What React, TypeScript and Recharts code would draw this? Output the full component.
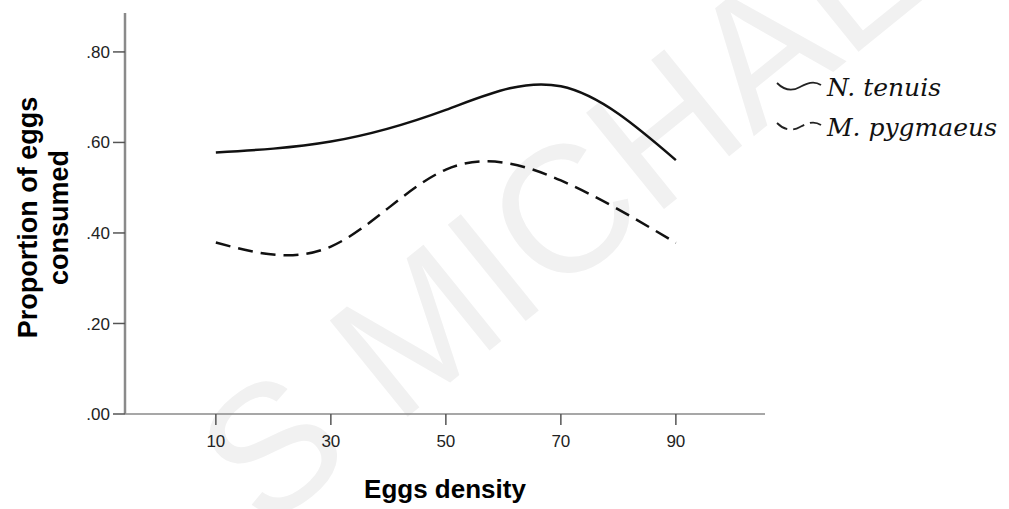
import { LineChart, Line, XAxis, YAxis } from 'recharts';

const densities = [10, 30, 50, 70, 90];
const tenuis = [0.578, 0.602, 0.672, 0.724, 0.561];
const pygmaeus = [0.379, 0.37, 0.54, 0.516, 0.378];
const yTicks = [0, 0.2, 0.4, 0.6, 0.8];
const seriesNames = ['N. tenuis', 'M. pygmaeus'];

const data = densities.map((d, i) => ({ density: d, tenuis: tenuis[i], pygmaeus: pygmaeus[i] }));

const AXIS = '#8a8a8a';
const SANS = 'Liberation Sans, Arial, sans-serif';
const TICK_TEXT = { fill: '#222', fontSize: 17, fontFamily: SANS };
const TITLE = { fontSize: 26, fontWeight: 'bold' as const, fill: '#000', fontFamily: SANS };

function Squiggle({ dashed }: { dashed: boolean }) {
  return (
    <svg width={48} height={18} style={{ display: 'block' }}>
      <path
        d="M2,5 C10,13 18,13 25,9 C31,6 38,2 46,7"
        fill="none"
        stroke="#222"
        strokeWidth={1.8}
        strokeDasharray={dashed ? '12 6' : undefined}
      />
    </svg>
  );
}

function LegendBox() {
  return (
    <div
      style={{
        position: 'absolute',
        left: 775,
        top: 67,
        fontFamily: 'DejaVu Serif, serif',
        fontStyle: 'italic',
        fontSize: 25,
        color: '#111',
      }}
    >
      {seriesNames.map((name, i) => (
        <div key={name} style={{ display: 'flex', alignItems: 'center', height: 40 }}>
          <Squiggle dashed={i === 1} />
          <span style={{ marginLeft: 4 }}>{name}</span>
        </div>
      ))}
    </div>
  );
}

export default function App() {
  return (
    <div style={{ position: 'absolute', left: 0, top: 0, width: 1009, height: 509, background: '#fff', overflow: 'hidden' }}>
      {/* faint watermark */}
      <svg width={1009} height={509} style={{ position: 'absolute', left: 0, top: 0 }}>
        <text x={264} y={533} fill="#f1f1f1" fontSize={180} fontFamily={SANS} transform="rotate(-39 264 533)">
          S MICHAEL
        </text>
      </svg>
      <div style={{ position: 'absolute', left: 0, top: 0 }}>
        <LineChart width={1009} height={509} data={data} margin={{ top: 13, right: 244, bottom: 0, left: 0 }}>
          <XAxis
            dataKey="density"
            type="number"
            domain={[-5.8, 105.5]}
            ticks={densities}
            height={95}
            axisLine={{ stroke: AXIS, strokeWidth: 1.5 }}
            tickLine={{ stroke: '#555', strokeWidth: 1.5 }}
            tickSize={11}
            tickMargin={10}
            tick={TICK_TEXT}
            label={{ value: 'Eggs density', position: 'insideBottom', offset: 11, style: TITLE }}
          />
          <YAxis
            type="number"
            domain={[0, 0.886]}
            ticks={yTicks}
            width={125}
            axisLine={{ stroke: AXIS, strokeWidth: 2.5 }}
            tickLine={{ stroke: '#555', strokeWidth: 1.5 }}
            tickSize={12}
            tickMargin={3}
            tick={TICK_TEXT}
            tickFormatter={(v: number) => v.toFixed(2).replace(/^0/, '')}
            label={({ viewBox }: any) => {
              const cy = viewBox.y + viewBox.height / 2 + 4;
              const style = { ...TITLE, fontSize: 27 };
              return (
                <g>
                  <text x={37} y={cy} transform={`rotate(-90 37 ${cy})`} textAnchor="middle" style={style}>
                    Proportion of eggs
                  </text>
                  <text x={68} y={cy} transform={`rotate(-90 68 ${cy})`} textAnchor="middle" style={style}>
                    consumed
                  </text>
                </g>
              );
            }}
          />
          <Line
            type="natural"
            dataKey="tenuis"
            name={seriesNames[0]}
            stroke="#111"
            strokeWidth={2.5}
            dot={false}
            isAnimationActive={false}
          />
          <Line
            type="natural"
            dataKey="pygmaeus"
            name={seriesNames[1]}
            stroke="#111"
            strokeWidth={2.5}
            strokeDasharray="15 8"
            dot={false}
            isAnimationActive={false}
          />
        </LineChart>
      </div>
      <LegendBox />
    </div>
  );
}
